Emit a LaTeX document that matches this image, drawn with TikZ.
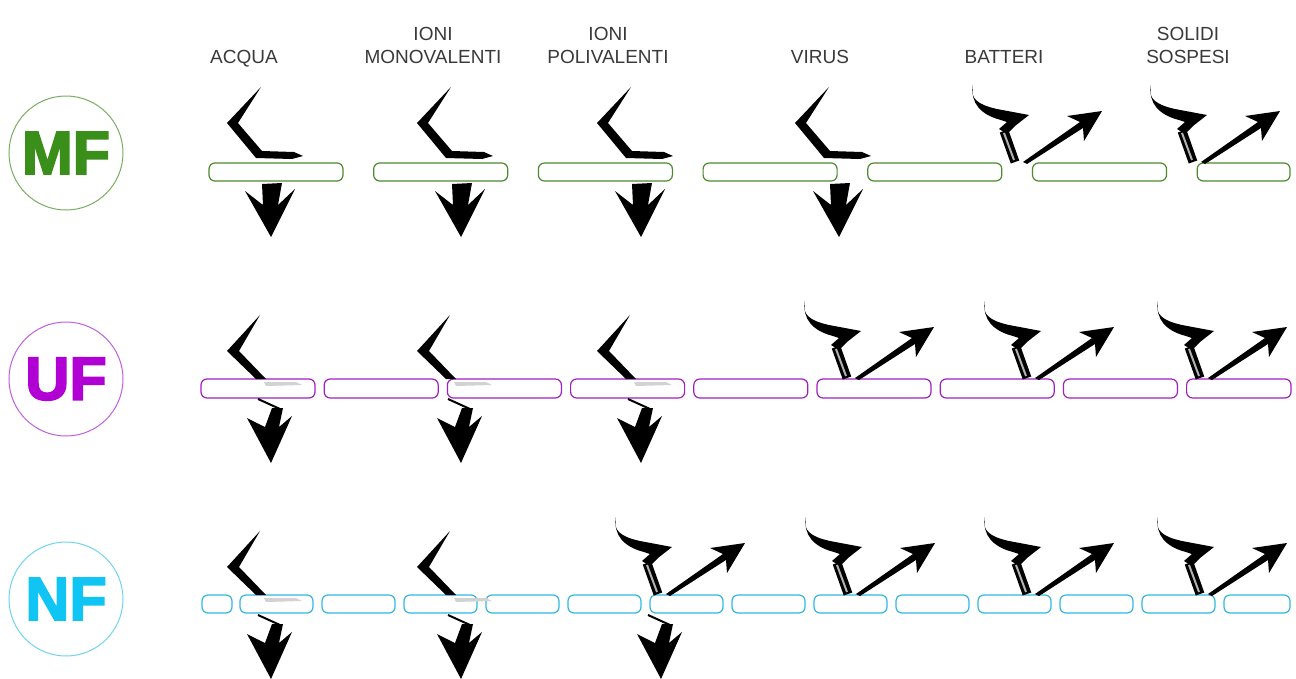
\documentclass[tikz,border=0pt]{standalone}
\usepackage{fontspec}
\usepackage{xcolor}
\usepackage{tikz}
\newfontfamily\headfont{Liberation Sans}
\newfontfamily\tagfont{Liberation Sans}[BoldFeatures={FakeBold=3}]
\definecolor{headgray}{HTML}{3A3A3A}
\definecolor{mfgreen}{HTML}{3A8F1A}
\definecolor{mfring}{HTML}{7AAE62}
\definecolor{mfline}{HTML}{4E8A2E}
\definecolor{ufpurple}{HTML}{B100D4}
\definecolor{ufring}{HTML}{C060E0}
\definecolor{ufline}{HTML}{A020C0}
\definecolor{nfcyan}{HTML}{10C4F4}
\definecolor{nfring}{HTML}{70D4F0}
\definecolor{nfline}{HTML}{30B8E0}
\tikzset{
  head/.style={anchor=base, inner sep=0pt, text=headgray, font=\headfont\fontsize{19}{19}\selectfont},
  tag/.style={circle, minimum size=114pt, inner sep=0pt, line width=1pt, font=\tagfont\bfseries\fontsize{61}{61}\selectfont},
  mem/.style={line width=1.2pt, fill=white, rounded corners=6pt},
  hook/.pic={
    \fill (-9,-76) -- (-43,-40) -- (-14,-5) -- (22,-4) -- (33,-7) -- (24,-11) -- (-8,-12) -- (-32,-40) -- cycle;
  },
  drop/.pic={
    \fill (-8,21) -- (12,20) -- (8,42) -- (25,26) -- (1,74) -- (-25,28) -- (-7,42) -- cycle;
  },
  bend/.pic={
    \fill (-10,-64) -- (-43,-28) -- (-14,0) -- (-4,0) -- (-31,-28) -- cycle;
    \fill[gray!35] (-6,3) -- (26,3) -- (32,6) -- (-4,7) -- cycle;
  },
  leak/.pic={
    \draw[line width=2pt] (-12,20) -- (10,30);
    \fill (2,29) -- (13,29) -- (9,48) -- (22,37) -- (1,84) -- (-23,39) -- (-5,48) -- cycle;
  },
  stop/.pic={
    \fill (-42,-78) .. controls (-46,-64) and (-36,-58) .. (-18,-54) -- (14,-48) -- (0,-37) -- (-8,-29)
      -- (-16,-34) -- (-8,-41) -- (-14,-43) .. controls (-34,-48) and (-45,-60) .. cycle;
    \draw[line width=9pt] (-11,-32) -- (0,-1);
    \draw[gray!60, line width=2pt] (-11,-30) -- (-1,-3);
    \fill (8,-1) -- (65,-41) -- (52,-47) -- (87,-52) -- (69,-22) -- (68,-35) -- (12,1) -- cycle;
  },
}
\begin{document}
\begin{tikzpicture}[x=1pt,y=-1pt]
  \fill[white] (0,0) rectangle (1296,678);
  \useasboundingbox (0,0) rectangle (1296,678);

  % column heads
  \node[head] (acqua) at (244,63) {ACQUA};
  \node[head] (ioni1) at (433,40) {IONI};
  \node[head] (mono) at (433,63) {MONOVALENTI};
  \node[head] (ioni2) at (608,40) {IONI};
  \node[head] (poli) at (608,63) {POLIVALENTI};
  \node[head] (virus) at (820,63) {VIRUS};
  \node[head] (batteri) at (1004,63) {BATTERI};
  \node[head] (solidi) at (1188,40) {SOLIDI};
  \node[head] (sospesi) at (1188,63) {SOSPESI};

  % row tags
  \node[tag, draw=mfring, text=mfgreen] (mf) at (66,153) {MF};
  \node[tag, draw=ufring, text=ufpurple] (uf) at (66,379) {UF};
  \node[tag, draw=nfring, text=nfcyan] (nf) at (66,599) {NF};

  % membranes
  \foreach \i in {0,...,6} {
    \pgfmathsetmacro{\xl}{209+164.7*\i}
    \pgfmathsetmacro{\xr}{min(\xl+134,1290)}
    \draw[mem, draw=mfline] (\xl,163) rectangle (\xr,181);
  }
  \foreach \i in {0,...,8} {
    \pgfmathsetmacro{\xl}{201+123.2*\i}
    \pgfmathsetmacro{\xr}{min(\xl+114,1291)}
    \draw[mem, draw=ufline] (\xl,379) rectangle (\xr,398);
  }
  \draw[mem, draw=nfline] (202,595) rectangle (232,613);
  \foreach \i in {0,...,12} {
    \pgfmathsetmacro{\xl}{240+82*\i}
    \pgfmathsetmacro{\xr}{min(\xl+73,1290)}
    \draw[mem, draw=nfline] (\xl,595) rectangle (\xr,613);
  }

  % MF
  \foreach \x in {270,460,640,838} {
    \pic at (\x,163) {hook};
    \pic at (\x,163) {drop};
  }
  \foreach \x in {1015,1193}
    \pic at (\x,163) {stop};

  % UF
  \foreach \x in {270,460,640} {
    \pic at (\x,379) {bend};
    \pic at (\x,379) {leak};
  }
  \foreach \x in {847,1027,1200}
    \pic at (\x,379) {stop};

  % NF
  \foreach \x in {270,460} {
    \pic at (\x,595) {bend};
    \pic at (\x,595) {leak};
  }
  \pic at (660,595) {leak};
  \foreach \x in {658,848,1027,1200}
    \pic at (\x,595) {stop};
\end{tikzpicture}
\end{document}
